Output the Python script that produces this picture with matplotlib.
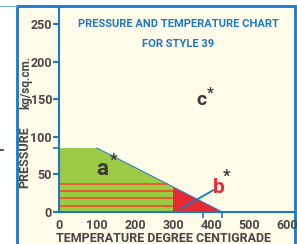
import matplotlib
matplotlib.use("Agg")
import matplotlib.pyplot as plt
from matplotlib.patches import Rectangle, Polygon
from matplotlib.lines import Line2D

# ---- data ----
temp_ticks = [0, 100, 200, 300, 400, 500, 600]
pressure_ticks = [0, 50, 100, 150, 200, 250]
# boundary of allowed region a (temperature, pressure)
boundary_temp = [0, 100, 430]
boundary_pres = [85, 85, 0]
# region b (red) starts at this temperature
b_start = 300
# red stripe pressures inside region a
stripe_pres = [37, 27.5, 18, 8.5]
# extra small ticks on the axes
minor_temp = [0, 378, 430]
minor_pres = [85]
# pointer line for b
pointer_temp = [322, 406]
pointer_pres = [5, 29]
labels = {"a": (113, 57), "b": (421, 33), "c": (376, 149)}

FONT = ["Roboto", "DejaVu Sans"]
plt.rcParams["font.family"] = FONT
plt.rcParams["font.weight"] = "bold"

W, H = 297, 244
fig = plt.figure(figsize=(W / 100, H / 100), dpi=100)
fig.patch.set_facecolor("white")

BLUE = "#1b78c2"
CREAM = "#fffce9"
GREEN = "#9dca44"
RED = "#e82a30"
STRIPE = "#e8592b"
GRAY = "#474747"
DARK = "#3a3a3a"

# panel
fig.add_artist(Rectangle((17 / W, -0.1), (295 - 17) / W, (244 - 6) / H + 0.1,
                         transform=fig.transFigure, facecolor=CREAM,
                         edgecolor=BLUE, lw=2.0, zorder=0))
fig.add_artist(Line2D([0, 17 / W], [1 - 6 / H, 1 - 6 / H], transform=fig.transFigure,
                      color="#7fb2de", lw=0.8))
fig.add_artist(Line2D([0, 3 / W], [1 - 150 / H, 1 - 150 / H], transform=fig.transFigure,
                      color="#333333", lw=1.2))

ax = fig.add_axes([59 / W, 32 / H, (295 - 59) / W, (212 - 6) / H])
ax.set_facecolor("none")
ax.set_xlim(0, 621)
ax.set_ylim(0, 274)

# region a (green)
ax.add_patch(Polygon(list(zip(boundary_temp, boundary_pres)) + [(boundary_temp[-1], 0), (0, 0)],
                     closed=True, facecolor=GREEN, edgecolor="none", zorder=1))
# region b (red): under the diagonal from b_start
t0, t1 = boundary_temp[1], boundary_temp[2]
p0 = boundary_pres[1]
def diag(t):
    return p0 - (t - t0) * p0 / (t1 - t0)
ax.add_patch(Polygon([(b_start, 0), (b_start, diag(b_start)), (t1, 0)], closed=True,
                     facecolor=RED, edgecolor="none", zorder=2))
ax.plot(boundary_temp[1:], boundary_pres[1:], color="#3a7fc0", lw=0.8, zorder=3)
for p in stripe_pres:
    tend = min(b_start, t0 + (p0 - p) * (t1 - t0) / p0)
    ax.plot([0, tend], [p, p], color=STRIPE, lw=1.3, zorder=3, solid_capstyle="butt")
ax.plot(pointer_temp, pointer_pres, color=BLUE, lw=1.3, zorder=4)

# region labels
ax.text(*labels["a"], "a", fontsize=16, color=DARK, ha="center", va="center", zorder=5)
ax.text(labels["a"][0] + 30, labels["a"][1] + 12, "*", fontsize=12, color=DARK,
        ha="center", va="center", zorder=5)
ax.text(*labels["b"], "b", fontsize=15, color=RED, ha="center", va="center", zorder=5)
ax.text(labels["b"][0] + 19, labels["b"][1] + 14, "*", fontsize=12, color=DARK,
        ha="center", va="center", zorder=5)
ax.text(*labels["c"], "c", fontsize=14, color=DARK, ha="center", va="center", zorder=5)
ax.text(labels["c"][0] + 21, labels["c"][1] + 8, "*", fontsize=11, color=DARK,
        ha="center", va="center", zorder=5)

for s in ["top", "right"]:
    ax.spines[s].set_visible(False)
for s in ["left", "bottom"]:
    ax.spines[s].set_color(BLUE)
    ax.spines[s].set_linewidth(1.5)
    ax.spines[s].set_zorder(6)

ax.set_yticks(pressure_ticks)
ax.set_yticklabels([str(v) for v in pressure_ticks], fontsize=9, color=GRAY)
ax.tick_params(axis="y", length=4, width=1.5, color=BLUE, pad=1)
ax.set_yticks(minor_pres, minor=True)
ax.tick_params(axis="y", which="minor", length=4, width=1.2, color=BLUE)
ax.set_xticks(temp_ticks)
ax.set_xticklabels([str(v) for v in temp_ticks], fontsize=9, color=GRAY)
ax.tick_params(axis="x", length=0, pad=5)
ax.set_xticks(minor_temp, minor=True)
ax.tick_params(axis="x", which="minor", length=4, width=1.2, color=BLUE)

fig.text(164 / W, 1 - 238 / H, "TEMPERATURE DEGREE CENTIGRADE", fontsize=9,
         color=GRAY, ha="center", va="center")
fig.text(25 / W, 1 - 157 / H, "PRESSURE", fontsize=9,
         color=GRAY, ha="center", va="center", rotation=90)
fig.text(26 / W, 1 - 82 / H, "kg/sq.cm.", fontsize=8.5,
         color=GRAY, ha="center", va="center", rotation=90)

fig.text(178 / W, 1 - 24 / H, "PRESSURE AND TEMPERATURE CHART", fontsize=8,
         color=BLUE, ha="center", va="center")
fig.text(178 / W, 1 - 44 / H, "FOR STYLE 39", fontsize=8,
         color=BLUE, ha="center", va="center")

fig.savefig("out.png", dpi=100)
